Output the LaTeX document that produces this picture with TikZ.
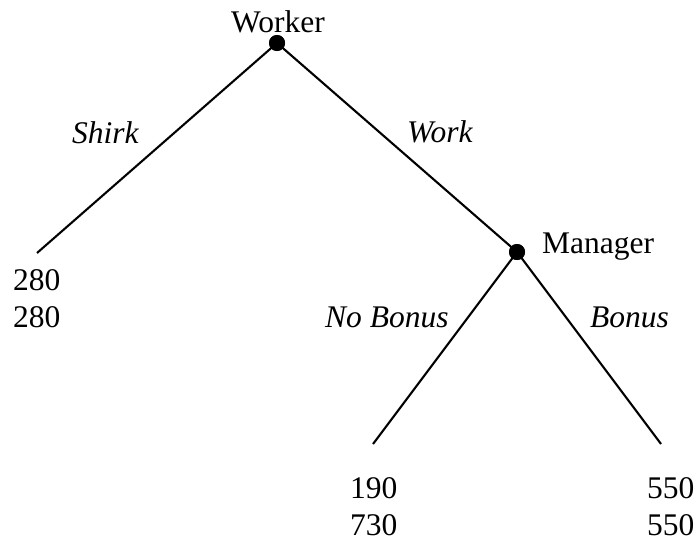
\documentclass[tikz,border=0pt]{standalone}
\usepackage{fontspec}
\setmainfont{Liberation Serif}
\begin{document}
\begin{tikzpicture}[x=1pt,y=-1pt,
  decision/.style={circle,fill=black,inner sep=0pt,minimum size=16pt},
  branch/.style={line width=2.1pt},
  lbl/.style={inner sep=0pt,anchor=base west,font=\fontsize{31.5}{37}\selectfont},
  actlbl/.style={lbl,font=\fontsize{31.5}{37}\selectfont\itshape}]
  \useasboundingbox (0,0) rectangle (700,544);

  % decision nodes
  \node[decision] (w) at (277,43) {};
  \node[decision] (m) at (517,252) {};

  % terminal points
  \coordinate (shirkend) at (37,253);
  \coordinate (nobonusend) at (373,444);
  \coordinate (bonusend) at (661,444);

  % branches
  \draw[branch] (w.center) -- (shirkend);
  \draw[branch] (w.center) -- (m.center);
  \draw[branch] (m.center) -- (nobonusend);
  \draw[branch] (m.center) -- (bonusend);
  \node[decision] at (w) {};
  \node[decision] at (m) {};

  % player labels
  \node[lbl,anchor=base] (wlab) at (278,32) {Worker};
  \node[lbl] (mlab) at (542,253) {Manager};

  % action labels
  \node[actlbl] (shirk) at (72,143) {Shirk};
  \node[actlbl] (work) at (407,142) {Work};
  \node[actlbl] (nobonus) at (325,327) {No Bonus};
  \node[actlbl] (bonus) at (590,327) {Bonus};

  % payoffs
  \node[lbl] (p1a) at (13,290) {280};
  \node[lbl] (p1b) at (13,327) {280};
  \node[lbl] (p2a) at (350,498) {190};
  \node[lbl] (p2b) at (350,535) {730};
  \node[lbl] (p3a) at (647,498) {550};
  \node[lbl] (p3b) at (647,535) {550};
\end{tikzpicture}
\end{document}
